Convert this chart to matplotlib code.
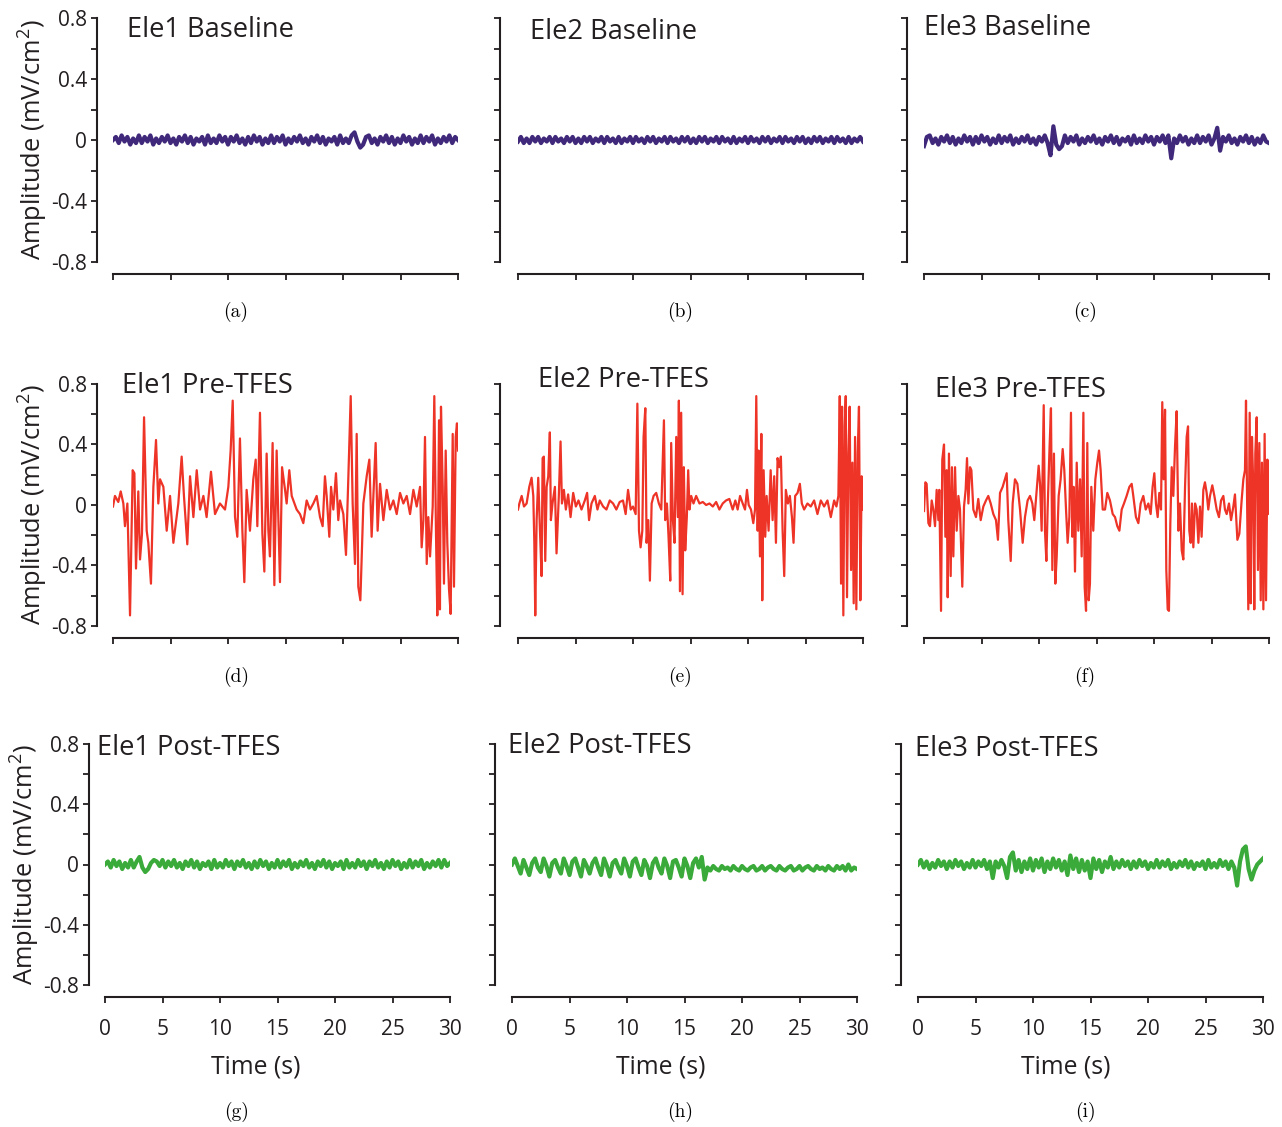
import numpy as np
import matplotlib
matplotlib.use('Agg')
import matplotlib.pyplot as plt

plt.rcParams['font.family'] = ['Open Sans', 'DejaVu Sans']
plt.rcParams['mathtext.default'] = 'regular'

# ---- data ---------------------------------------------------------------
# baseline / post-TFES traces: samples every 0.25 s, values in 0.01 mV/cm^2
ele1_base = [0, 2, -2, 3, -1, 2, -3, 1, -2, 3, -2, 2, -1, 3, -3, 1, -2, 2, -1, 3,
             -2, 1, -3, 2, -1, 3, -2, 2, -3, 1, -1, 2, -3, 3, -2, 1, -2, 3, -1, 2,
             -3, 2, -1, 3, -2, 1, -3, 2, -2, 3, -1, 2, -3, 1, -2, 3, -2, 2, -1, 3,
             -3, 1, -2, 2, -1, 3, -2, 1, -3, 2, -1, 3, -2, 2, -3, 1, -1, 2, -3, 3,
             -2, 1, -2, 3, 5, -1, -5, -3, 2, 3, -2, 1, -3, 2, -1, 3, -2, 2, -3, 1,
             -2, 3, -1, 2, -3, 1, -2, 3, -2, 2, -1, 3, -3, 1, -2, 2, -1, 3, -2, 2,
             0]
ele2_base = [-1, 2, -2, 1, -2, 2, -1, 2, -2, 1, -1, 2, -2, 2, -1, 1, -2, 2, -1, 2,
             -2, 1, -2, 2, -1, 2, -2, 1, -1, 2, -2, 2, -1, 1, -2, 2, -2, 1, -1, 2,
             -2, 2, -1, 1, -2, 2, -1, 2, -2, 1, -1, 2, -2, 2, -1, 1, -2, 2, -1, 2,
             -2, 1, -2, 2, -1, 2, -2, 1, -1, 2, -2, 2, -1, 1, -2, 2, -2, 1, -1, 2,
             -2, 2, -1, 1, -2, 2, -1, 2, -2, 1, -1, 2, -2, 2, -1, 1, -2, 2, -1, 2,
             -2, 1, -2, 2, -1, 2, -2, 1, -1, 2, -2, 2, -1, 1, -2, 2, -2, 1, -1, 2,
             -1]
ele3_base = [-4, 2, 3, -2, 1, -3, 2, -1, 3, -2, 2, -3, 1, -2, 3, -1, 2, -3, 2, -2,
             3, -1, 2, -3, 1, -2, 3, -2, 2, -1, 3, -3, 1, -2, 2, -1, 3, -2, 1, -3,
             2, -1, 3, -2, -10, 9, -3, -6, -4, 3, -2, 2, -1, 3, -3, 1, -2, 2, -1, 3,
             -2, 1, -3, 2, -1, 3, -2, 2, -3, 1, -1, 2, -3, 3, -2, 1, -2, 3, -1, 2,
             -3, 2, -1, 3, -2, 3, -12, 1, -2, 3, -1, 2, -3, 1, -2, 3, -2, 2, -1, 3,
             -3, 1, 8, -7, 2, -1, 3, -2, 1, -3, 2, -1, 3, -2, 2, -3, 1, -2, 3, -1,
             -2]
ele1_post = [0, 2, -2, 3, -1, 2, -3, 1, -2, 3, -2, 2, 5, -2, -5, -3, 1, 3, 2, -1,
             3, -2, 2, -1, 3, -2, 1, -3, 2, -1, 3, -2, 2, -3, 1, -1, 2, -3, 3, -2,
             1, -2, 3, -1, 2, -3, 2, -1, 3, -2, 1, -3, 2, -2, 3, -1, 2, -3, 1, -2,
             3, -2, 2, -1, 3, -3, 1, -2, 2, -1, 3, -2, 1, -3, 2, -1, 3, -2, 2, -3,
             1, -1, 2, -3, 3, -2, 1, -2, 3, -1, 2, -3, 2, -1, 3, -2, 1, -3, 2, -2,
             3, -1, 2, -3, 1, -2, 3, -2, 2, -1, 3, -3, 1, -2, 2, -1, 3, -2, 3, -1,
             1]
ele2_post = [0, 4, -1, -6, 3, -2, -7, 1, 4, -2, -5, 4, -1, -8, 1, 3, -2, -6, 4, -1,
             -7, 2, 4, -2, -8, 3, -1, -6, 1, 4, -2, -7, 4, -1, -8, 1, 3, -2, -6, 4,
             -1, -8, 2, 4, -2, -7, 3, -1, -9, 1, 4, -2, -6, 4, -1, -9, 2, 3, -2, -8,
             4, -1, -9, 1, 4, -2, 5, -10, -2, -4, -1, -3, -4, -1, -3, -2, -4, -1, -3, -4,
             -1, -3, -4, -2, -1, -4, -3, -1, -4, -2, -1, -3, -4, -1, -3, -4, -2, -1, -4, -3,
             -1, -4, -2, -1, -3, -4, -1, -3, -2, -4, -1, -3, -4, -1, -3, -1, -4, 0, -4, -2,
             -3]
ele3_post = [0, 3, -2, 2, -3, 1, -2, 3, -1, 2, -3, 2, -2, 3, -1, 2, -3, 1, -2, 3,
             -2, 2, -1, 3, -3, 2, -9, 2, -2, 3, -1, -9, 5, 8, -4, 3, -5, 2, -3, 4,
             -4, 3, -2, 4, -5, 2, -3, 4, -2, 3, -4, 2, -7, 6, -3, 4, -5, 3, -4, 2,
             -9, 4, -3, 3, -5, 2, -2, 5, -3, 2, -2, 3, -1, 2, -3, 2, -2, 3, -1, 2,
             -3, 1, -2, 3, -2, 2, -1, 3, -3, 1, -2, 2, -1, 3, -2, 2, -3, 1, -1, 2,
             -3, 3, -2, 1, -2, 3, -1, 2, -3, 2, -2, -14, 2, 10, 12, -3, -10, -4, 0, 2,
             4]

# pre-TFES traces: time (s) and amplitude (mV/cm^2)
ele1_pre_t = [0.0, 0.17, 0.46, 0.67, 0.90, 1.04, 1.25, 1.48, 1.71, 1.86, 2.0, 2.2, 2.35, 2.52, 2.70,
              2.93, 3.07, 3.30, 3.51, 3.74, 3.94, 4.09, 4.38, 4.67, 4.96, 5.25, 5.68, 5.97, 6.17,
              6.46, 6.70, 6.99, 7.28, 7.57, 7.86, 8.14, 8.52, 8.87, 9.30, 9.74, 10.03, 10.23,
              10.41, 10.61, 10.81, 11.04, 11.25, 11.42, 11.62, 11.91, 12.20, 12.41, 12.55, 12.78,
              12.99, 13.16, 13.36, 13.51, 13.65, 13.88, 14.03, 14.23, 14.43, 14.52, 14.70, 14.96,
              15.10, 15.33, 15.54, 15.97, 16.26, 16.55, 16.84, 17.13, 17.42, 17.71, 18.0, 18.23,
              18.43, 18.58, 18.81, 18.96, 19.16, 19.39, 19.59, 19.74, 20.03, 20.26, 20.46, 20.67,
              20.84, 21.04, 21.19, 21.33, 21.51, 21.77, 22.06, 22.29, 22.49, 22.64, 22.84, 23.01,
              23.22, 23.51, 23.80, 24.09, 24.38, 24.67, 24.96, 25.25, 25.54, 25.83, 26.12, 26.41,
              26.70, 26.84, 26.99, 27.13, 27.28, 27.42, 27.57, 27.80, 27.94, 28.09, 28.20, 28.35,
              28.43, 28.52, 28.67, 28.78, 28.93, 29.07, 29.22, 29.36, 29.54, 29.65, 29.80, 29.91,
              30.0]
ele1_pre_v = [-0.01, 0.06, 0.02, 0.09, 0.01, -0.14, 0.01, -0.73, 0.23, 0.21, -0.42, 0.09, -0.36,
              -0.19, 0.58, -0.17, -0.25, -0.52, 0.12, 0.43, 0.01, 0.17, 0.12, -0.17, 0.06, -0.25,
              0.01, 0.32, 0.06, -0.26, 0.19, -0.08, 0.23, -0.03, 0.06, -0.08, 0.22, -0.06, 0.01,
              -0.03, 0.12, 0.36, 0.69, -0.08, -0.21, 0.44, -0.17, -0.51, 0.10, -0.17, 0.17, 0.30,
              -0.14, 0.61, -0.19, -0.44, 0.34, -0.17, -0.34, 0.41, -0.53, 0.36, -0.25, -0.51, 0.25,
              0.10, 0.01, 0.23, 0.06, -0.03, -0.06, -0.12, 0.03, -0.03, 0.01, 0.06, -0.08, -0.14,
              0.19, 0.06, -0.21, 0.12, -0.03, 0.21, -0.10, 0.03, -0.06, -0.33, 0.17, 0.72, 0.01,
              -0.39, 0.47, -0.54, -0.63, 0.01, 0.19, 0.30, -0.21, 0.06, 0.41, -0.17, 0.14, -0.10,
              0.10, -0.03, 0.03, -0.06, 0.08, 0.01, 0.06, -0.06, 0.10, -0.01, 0.12, -0.28, -0.10,
              0.45, -0.39, -0.08, -0.34, -0.01, 0.72, -0.21, -0.73, 0.56, -0.69, 0.65, 0.12, -0.52,
              0.36, -0.25, -0.56, -0.72, 0.47, -0.54, 0.45, 0.54, 0.36]

ele2_pre_t = [0.0, 0.12, 0.32, 0.52, 0.75, 0.98, 1.18, 1.33, 1.42, 1.50, 1.62, 1.76, 1.91, 2.05,
              2.14, 2.25, 2.37, 2.49, 2.63, 2.77, 2.86, 3.0, 3.21, 3.35, 3.55, 3.70, 3.82, 3.99,
              4.16, 4.36, 4.57, 4.80, 5.03, 5.26, 5.52, 5.81, 6.01, 6.18, 6.39, 6.68, 6.91, 7.11,
              7.40, 7.69, 7.98, 8.27, 8.55, 8.84, 9.13, 9.36, 9.57, 9.80, 10.0, 10.23, 10.38,
              10.52, 10.66, 10.81, 10.92, 11.07, 11.18, 11.33, 11.47, 11.62, 11.79, 12.02, 12.25,
              12.46, 12.69, 12.80, 12.95, 13.09, 13.24, 13.32, 13.47, 13.61, 13.76, 13.90, 13.99,
              14.08, 14.19, 14.31, 14.42, 14.54, 14.68, 14.80, 14.91, 15.06, 15.26, 15.49, 15.78,
              16.07, 16.36, 16.65, 16.94, 17.23, 17.51, 17.80, 18.09, 18.38, 18.67, 18.90, 19.10,
              19.31, 19.54, 19.74, 19.91, 20.06, 20.26, 20.46, 20.61, 20.72, 20.84, 20.92, 21.04,
              21.16, 21.24, 21.36, 21.50, 21.62, 21.79, 21.97, 22.14, 22.28, 22.43, 22.57, 22.72,
              22.86, 23.01, 23.15, 23.29, 23.47, 23.64, 23.82, 23.96, 24.10, 24.31, 24.51, 24.68,
              24.88, 25.17, 25.46, 25.75, 26.04, 26.33, 26.62, 26.91, 27.20, 27.49, 27.69, 27.86,
              27.98, 28.09, 28.18, 28.29, 28.41, 28.50, 28.61, 28.73, 28.84, 28.96, 29.08, 29.19,
              29.31, 29.42, 29.54, 29.65, 29.77, 29.88, 30.0]
ele2_pre_v = [-0.03, 0.01, 0.06, -0.01, 0.01, 0.12, 0.18, 0.06, -0.25, -0.73, -0.10, 0.18, -0.17,
              -0.47, 0.31, 0.32, -0.37, 0.12, 0.19, 0.48, -0.10, 0.01, 0.12, -0.32, 0.06, 0.42,
              0.01, 0.10, -0.03, 0.07, -0.08, 0.08, -0.01, 0.03, -0.03, 0.03, 0.08, -0.10, 0.01,
              0.06, -0.03, 0.03, -0.01, -0.03, 0.03, 0.01, -0.03, 0.02, 0.03, -0.06, 0.10, -0.03,
              -0.01, -0.06, 0.67, -0.17, -0.28, -0.17, 0.45, 0.64, -0.25, -0.10, -0.50, 0.01, 0.06,
              0.08, 0.01, -0.03, 0.56, -0.10, 0.01, -0.21, -0.50, 0.41, -0.10, -0.25, 0.45, -0.08,
              0.69, -0.57, 0.61, -0.59, 0.25, -0.30, -0.08, 0.23, -0.03, 0.06, 0.01, 0.06, 0.01,
              0.02, 0.0, 0.01, -0.01, 0.02, -0.03, 0.01, 0.03, 0.04, -0.03, 0.03, -0.03, 0.06, 0.01,
              -0.03, 0.10, 0.0, -0.03, -0.12, -0.03, 0.72, -0.17, 0.36, -0.34, 0.47, -0.63, 0.23,
              -0.21, 0.06, -0.17, 0.23, -0.10, 0.19, -0.25, 0.31, 0.25, 0.32, -0.17, -0.47, 0.10,
              0.01, 0.06, -0.08, -0.25, 0.06, 0.08, 0.14, 0.01, -0.03, 0.01, -0.01, 0.03, -0.06,
              0.03, -0.01, 0.03, -0.08, 0.03, -0.01, 0.06, 0.72, -0.52, 0.65, -0.73, 0.52, 0.72,
              -0.61, 0.34, 0.65, -0.43, 0.28, -0.65, 0.45, -0.69, 0.34, 0.65, -0.63, 0.19, -0.03]

ele3_pre_t = [0.0, 0.12, 0.23, 0.38, 0.52, 0.67, 0.81, 0.96, 1.10, 1.25, 1.33, 1.48, 1.59, 1.74,
              1.86, 1.97, 2.06, 2.17, 2.32, 2.43, 2.55, 2.70, 2.84, 2.99, 3.13, 3.33, 3.48, 3.62,
              3.74, 3.86, 4.0, 4.12, 4.29, 4.52, 4.72, 4.93, 5.16, 5.39, 5.59, 5.80, 6.03, 6.26,
              6.43, 6.61, 6.84, 7.04, 7.19, 7.33, 7.54, 7.71, 7.91, 8.12, 8.35, 8.58, 8.78, 9.01,
              9.22, 9.42, 9.59, 9.80, 9.97, 10.09, 10.23, 10.41, 10.52, 10.64, 10.75, 10.90, 11.04,
              11.16, 11.30, 11.42, 11.54, 11.71, 11.88, 12.06, 12.20, 12.35, 12.49, 12.64, 12.78,
              12.90, 13.01, 13.13, 13.28, 13.42, 13.57, 13.71, 13.86, 13.97, 14.09, 14.20, 14.32,
              14.43, 14.55, 14.72, 14.90, 15.07, 15.22, 15.36, 15.54, 15.74, 15.94, 16.17, 16.41,
              16.61, 16.81, 16.99, 17.19, 17.39, 17.62, 17.86, 18.06, 18.20, 18.43, 18.64, 18.84,
              19.07, 19.28, 19.51, 19.71, 19.88, 20.03, 20.17, 20.32, 20.46, 20.61, 20.72, 20.84,
              20.96, 21.07, 21.19, 21.30, 21.42, 21.54, 21.68, 21.83, 21.97, 22.12, 22.26, 22.41,
              22.55, 22.70, 22.84, 22.96, 23.07, 23.19, 23.30, 23.42, 23.57, 23.71, 23.86, 24.0,
              24.14, 24.29, 24.43, 24.58, 24.72, 24.87, 25.07, 25.25, 25.45, 25.65, 25.83, 26.03,
              26.17, 26.32, 26.52, 26.70, 26.90, 27.04, 27.25, 27.42, 27.62, 27.77, 27.91, 28.0,
              28.12, 28.20, 28.32, 28.41, 28.52, 28.64, 28.72, 28.81, 28.93, 29.04, 29.16, 29.28,
              29.39, 29.51, 29.62, 29.74, 29.86, 29.91, 30.0]
ele3_pre_v = [-0.04, 0.15, 0.14, -0.12, -0.14, 0.03, -0.03, -0.14, 0.10, -0.10, 0.10, -0.70, 0.30,
              0.40, -0.21, 0.23, -0.61, 0.34, -0.47, 0.25, -0.34, 0.25, -0.17, 0.06, -0.03, -0.54,
              -0.01, 0.10, 0.31, 0.01, 0.25, 0.23, -0.03, -0.08, 0.04, -0.10, -0.01, 0.03, 0.06,
              0.01, -0.06, -0.10, -0.23, 0.08, 0.12, 0.17, 0.21, -0.10, -0.37, 0.01, 0.17, 0.14,
              -0.03, -0.25, -0.08, 0.03, 0.06, 0.01, -0.10, 0.10, 0.26, 0.14, -0.17, 0.66, -0.17,
              -0.37, -0.03, 0.34, 0.64, -0.43, 0.34, -0.52, -0.34, 0.06, 0.17, 0.37, 0.23, -0.03,
              -0.25, -0.08, 0.61, -0.21, 0.12, -0.44, 0.28, -0.17, 0.17, -0.34, 0.61, -0.54, -0.70,
              0.41, -0.63, -0.52, 0.12, -0.17, 0.17, 0.28, 0.36, 0.23, -0.03, -0.03, 0.08, 0.03,
              -0.06, -0.08, -0.14, -0.17, -0.03, 0.01, 0.06, 0.12, 0.14, 0.06, -0.08, -0.12, 0.01,
              0.06, -0.03, 0.01, -0.06, 0.12, 0.21, 0.01, -0.08, 0.08, -0.03, 0.68, 0.17, 0.63,
              -0.43, -0.69, -0.70, -0.12, 0.25, 0.06, 0.39, 0.62, -0.17, 0.01, -0.30, -0.36, 0.12,
              0.45, 0.52, -0.17, -0.25, 0.01, -0.28, 0.01, -0.03, -0.25, -0.01, -0.21, 0.10, 0.15,
              0.08, -0.03, 0.06, 0.13, 0.06, -0.03, -0.08, 0.03, 0.06, -0.03, -0.06, 0.01, -0.10,
              -0.01, 0.07, -0.23, -0.19, 0.03, 0.17, 0.23, 0.69, -0.10, -0.69, 0.61, -0.65, 0.45,
              0.10, -0.69, 0.34, 0.58, -0.43, 0.41, -0.63, 0.28, -0.69, 0.47, -0.63, 0.30, -0.06,
              0.19]

titles = [['Ele1 Baseline', 'Ele2 Baseline', 'Ele3 Baseline'],
          ['Ele1 Pre-TFES', 'Ele2 Pre-TFES', 'Ele3 Pre-TFES'],
          ['Ele1 Post-TFES', 'Ele2 Post-TFES', 'Ele3 Post-TFES']]
panel_tags = ['(a)', '(b)', '(c)', '(d)', '(e)', '(f)', '(g)', '(h)', '(i)']
ytick_vals = [-0.8, -0.6, -0.4, -0.2, 0, 0.2, 0.4, 0.6, 0.8]
ytick_text = ['-0.8', '', '-0.4', '', '0', '', '0.4', '', '0.8']
xtick_vals = [0, 5, 10, 15, 20, 25, 30]

# ---- layout (pixels) ----------------------------------------------------
W, H = 1282, 1127
PT = 0.72  # points per pixel at dpi 100
fig = plt.figure(figsize=(W / 100, H / 100), dpi=100)

row_y = [(18, 262), (384, 626), (744, 985)]
xaxis_y = [274, 638, 997]
col_x = [[113, 518, 924], [113, 518, 924], [105, 512, 918]]
spine_x = [[97, 500, 907], [97, 500, 907], [89, 495, 901]]
title_pos = [[(127, 30), (530, 32), (924, 28)],
             [(122, 386), (538, 380), (935, 390)],
             [(97, 748), (508, 746), (915, 749)]]
xlabel_x = [256, 661, 1066]
tag_x = [[236, 680, 1085], [236, 680, 1085], [237, 680, 1085]]
tag_y = [312, 677, 1112]

purple = '#40297a'
red = '#ee3327'
green = '#3aaa3a'
ink = '#231f20'


def fx(x):
    return x / W


def fy(y):
    return 1 - y / H


traces = [
    [(None, ele1_base), (None, ele2_base), (None, ele3_base)],
    [(ele1_pre_t, ele1_pre_v), (ele2_pre_t, ele2_pre_v), (ele3_pre_t, ele3_pre_v)],
    [(None, ele1_post), (None, ele2_post), (None, ele3_post)],
]
colors = [purple, red, green]

for r in range(3):
    top, bot = row_y[r]
    for c in range(3):
        x0 = col_x[r][c]
        ax = fig.add_axes([fx(x0), fy(bot), 345 / W, (bot - top) / H])
        t, v = traces[r][c]
        if t is None:
            v = np.array(v) / 100.0
            t = np.linspace(0, 30, len(v))
            ax.plot(t, v, color=colors[r], lw=3.0, solid_joinstyle='round')
        else:
            ax.plot(t, v, color=colors[r], lw=1.6, solid_joinstyle='round')

        ax.set_xlim(0, 30)
        ax.set_ylim(-0.8, 0.8)
        for s in ['top', 'right']:
            ax.spines[s].set_visible(False)
        ax.spines['left'].set_position(('outward', (x0 - spine_x[r][c]) * PT))
        ax.spines['bottom'].set_position(('outward', (xaxis_y[r] - bot) * PT))
        for s in ['left', 'bottom']:
            ax.spines[s].set_linewidth(1.5)
            ax.spines[s].set_color(ink)

        ax.set_yticks(ytick_vals)
        ax.set_xticks(xtick_vals)
        ax.tick_params(direction='out', length=4, width=1.3, color=ink,
                       labelsize=15, labelcolor=ink)
        ax.tick_params(axis='y', pad=3)
        ax.tick_params(axis='x', pad=11.5)
        if c == 0:
            ax.set_yticklabels(ytick_text)
            ax.set_ylabel('Amplitude (mV/cm$^2$)', fontsize=18.4, color=ink)
            ax.yaxis.set_label_coords(-0.183, 0.5)
        else:
            ax.set_yticklabels([])
        if r == 2:
            ax.set_xticklabels([str(x) for x in xtick_vals])
            fig.text(fx(xlabel_x[c]), fy(1067), 'Time (s)', fontsize=17.8,
                     color=ink, ha='center', va='center')
        else:
            ax.set_xticklabels([])

        tx, ty = title_pos[r][c]
        fig.text(fx(tx), fy(ty), titles[r][c], fontsize=19.6, color=ink,
                 ha='left', va='center')
        fig.text(fx(tag_x[r][c]), fy(tag_y[r]), panel_tags[r * 3 + c],
                 fontsize=14, family='cmr10', ha='center', va='center')

fig.savefig('out.png', dpi=100)
